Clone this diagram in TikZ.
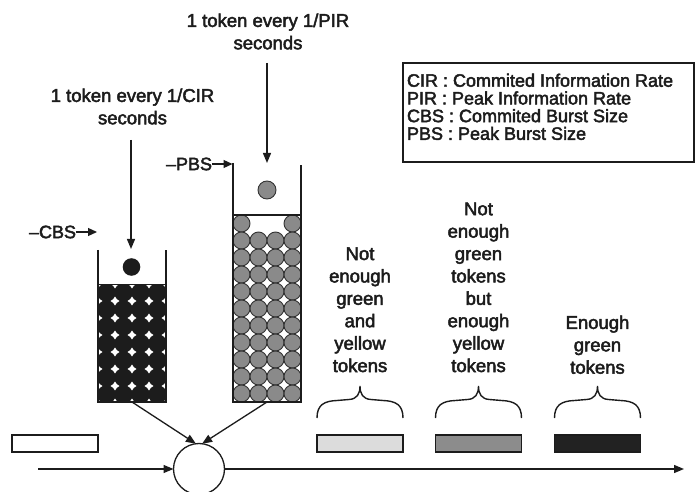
\documentclass[tikz,border=0pt]{standalone}
\usepackage{fontspec}
\setmainfont{Liberation Sans}[BoldFont={Liberation Sans},BoldFeatures={FakeBold=2.5}]
\usetikzlibrary{arrows.meta}

\definecolor{inkblack}{HTML}{1C1C1C}
\definecolor{tokengray}{HTML}{8A8A8A}
\definecolor{lightpkt}{HTML}{DCDCDC}
\definecolor{midpkt}{HTML}{8C8C8C}
\definecolor{darkpkt}{HTML}{222222}

\begin{document}
\begin{tikzpicture}[x=1pt,y=-1pt,
  every node/.style={inner sep=0pt,outer sep=0pt},
  txt/.style={font=\fontsize{18.5}{22.4}\selectfont\bfseries,align=center,anchor=north,text=inkblack},
  legendtxt/.style={font=\fontsize{18}{17.7}\selectfont\bfseries,align=left,anchor=north west,text=inkblack},
  sizetxt/.style={font=\fontsize{18}{20}\selectfont\bfseries,anchor=west,text=inkblack},
  wall/.style={line width=1.4pt,draw=inkblack},
  tip/.style={line width=1.3pt,draw=inkblack,-{Triangle[length=10pt,width=8pt]}},
  smalltip/.style={line width=1.3pt,draw=inkblack,-{Triangle[length=9pt,width=8pt]}},
  packet/.style={draw=inkblack,line width=1.3pt,minimum width=86pt,minimum height=17pt},
  bracepath/.style={line width=1.4pt,draw=inkblack},
  token/.style={fill=tokengray,draw=black!80,line width=0.9pt},
]
\useasboundingbox (0,0) rectangle (697,492);
\fill[white] (0,0) rectangle (697,492);

% ---- token arrival labels and arrows
\node[txt] (pirlabel) at (268,13.5) {1 token every 1/PIR\\seconds};
\node[txt] (cirlabel) at (132.5,88.5) {1 token every 1/CIR\\seconds};
\coordinate (pirsrc) at (267,63);
\coordinate (pirdst) at (267,163);
\coordinate (cirsrc) at (131,140);
\coordinate (cirdst) at (131,249);
\draw[tip] (pirsrc) -- (pirdst);
\draw[tip] (cirsrc) -- (cirdst);

% ---- committed bucket (CBS): black tokens
\begin{scope}
  \clip (98,284) rectangle (166,402);
  \fill[white] (98,284) rectangle (166,402);
  \foreach \i in {0,...,3}
    \foreach \j in {0,...,6}
      \fill[inkblack] ({106.5+17*\i},{292.5+17*\j}) circle (9.3pt);
\end{scope}
\draw[line width=1pt,inkblack] (98,284) -- (166,284);
\fill[inkblack] (131.5,267) circle (8.8pt);
\draw[wall] (98,250) -- (98,402) -- (166,402) -- (166,250);

% ---- peak bucket (PBS): gray tokens
\begin{scope}
  \clip (233,215) rectangle (301,402);
  \foreach \i in {0,3}
    \filldraw[token] ({241.5+17*\i},223.5) circle (8.5pt);
  \foreach \i in {0,...,3}
    \foreach \j in {1,...,10}
      \filldraw[token] ({241.5+17*\i},{223.5+17*\j}) circle (8.5pt);
\end{scope}
\draw[line width=1.2pt,inkblack] (233,215) -- (301,215);
\filldraw[token] (267,190) circle (9pt);
\draw[wall] (233,163) -- (233,402) -- (301,402) -- (301,165);

% ---- bucket size markers
\node[sizetxt] (cbs) at (29,232) {–CBS};
\coordinate (cbsmark) at (97,232);
\draw[smalltip] (cbs.east) -- (cbsmark);
\node[sizetxt] (pbs) at (166,164) {–PBS};
\coordinate (pbsmark) at (232.5,164);
\draw[smalltip] (pbs.east) -- (pbsmark);

% ---- meter and packet flow
\node[draw=inkblack,circle,minimum size=51pt,line width=1.3pt] (meter) at (199,469) {};
\coordinate (cbsout) at (132,402);
\coordinate (pbsout) at (267,402);
\draw[tip] (cbsout) -- (meter.97);
\draw[tip] (pbsout) -- (meter.83);
\coordinate (flowin) at (38,469);
\coordinate (flowout) at (684,469);
\draw[tip] (flowin) -- (meter.west);
\draw[tip] (meter.east) -- (flowout);

% ---- packets
\node[packet,fill=white] (p0) at (55,443.5) {};
\node[packet,fill=lightpkt] (p1) at (360,443.5) {};
\node[packet,fill=midpkt] (p2) at (478.5,443.5) {};
\node[packet,fill=darkpkt] (p3) at (597.5,443.5) {};

% ---- braces over the marked packets
\foreach \c in {360,478.5,597.5}
  \draw[bracepath] (\c-43,418) .. controls (\c-43,405) and (\c-36,401) .. (\c-23,400.5)
    -- (\c-11,399.5) .. controls (\c-3,399) and (\c,394) .. (\c,386)
    .. controls (\c,394) and (\c+3,399) .. (\c+11,399.5)
    -- (\c+23,400.5) .. controls (\c+36,401) and (\c+43,405) .. (\c+43,418);

% ---- outcome labels
\node[txt] (red) at (360,247.3) {Not\\enough\\green\\and\\yellow\\tokens};
\node[txt] (yellow) at (478.5,202.5) {Not\\enough\\green\\tokens\\but\\enough\\yellow\\tokens};
\node[txt] (green) at (597.5,315.5) {Enough\\green\\tokens};

% ---- legend
\node[draw=inkblack,line width=1.2pt,minimum width=291pt,minimum height=99pt,anchor=north west] (legend) at (403,63) {};
\node[legendtxt] (legendtext) at (407,73.7) {CIR : Commited Information Rate\\PIR : Peak Information Rate\\CBS : Commited Burst Size\\PBS : Peak Burst Size};
\end{tikzpicture}
\end{document}
